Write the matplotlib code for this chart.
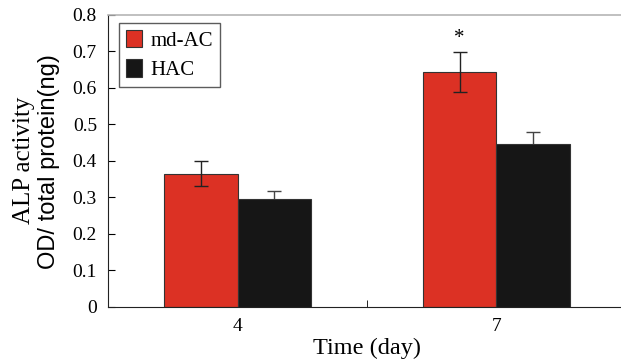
import matplotlib
matplotlib.use("Agg")
import matplotlib.pyplot as plt
import numpy as np

days = ["4", "7"]
md_ac = [0.365, 0.644]
md_ac_err = [0.035, 0.054]
hac = [0.295, 0.447]
hac_err = [0.023, 0.032]

RED = "#dc3124"
BLACK = "#161616"
SERIF = "Liberation Serif"

fig = plt.figure(figsize=(6.21, 3.64), dpi=100)
ax = fig.add_axes([0.174, 0.157, 0.834, 0.802])

x = np.arange(len(days))
width = 0.285
ax.bar(x - width / 2, md_ac, width, color=RED, edgecolor="#333333", linewidth=0.8,
       label="md-AC", zorder=2)
ax.bar(x + width / 2, hac, width, color=BLACK, edgecolor="#333333", linewidth=0.8,
       label="HAC", zorder=2)
ax.errorbar(x - width / 2, md_ac, yerr=md_ac_err, fmt="none", ecolor="#222222",
            elinewidth=1, capsize=5, capthick=1, zorder=3)
ax.errorbar(x + width / 2, hac, yerr=hac_err, fmt="none", ecolor="#444444",
            elinewidth=1, capsize=5, capthick=1, zorder=1)
ax.text(x[1] - width / 2, md_ac[1] + md_ac_err[1] + 0.038, "*", ha="center",
        va="center", fontsize=15, family=SERIF)

ax.set_xlim(-0.5, 1.5)
ax.set_ylim(0, 0.8)
ax.set_xticks(x)
ax.set_xticklabels(days, family=SERIF, fontsize=14)
ax.set_xticks([0.5], minor=True)
ax.tick_params(axis="x", which="major", length=0, pad=8)
ax.tick_params(axis="x", which="minor", direction="in", length=5)
ax.set_yticks(np.arange(0, 0.81, 0.1))
ax.set_yticklabels(["0", "0.1", "0.2", "0.3", "0.4", "0.5", "0.6", "0.7", "0.8"],
                   family=SERIF, fontsize=14)
ax.tick_params(axis="y", direction="in", length=5, pad=8)

ax.spines["right"].set_visible(False)
ax.spines["top"].set_color("#b5b5b5")
ax.spines["top"].set_linewidth(1.2)
ax.spines["left"].set_color("#222222")
ax.spines["bottom"].set_color("#222222")

ax.set_xlabel("Time (day)", family=SERIF, fontsize=17.5, labelpad=2)
fig.text(0.038, 0.56, "ALP activity", rotation=90, ha="center", va="center",
         family=SERIF, fontsize=18)
fig.text(0.079, 0.555, "OD/ total protein(ng)", rotation=90, ha="center", va="center",
         family="Liberation Sans", fontsize=17)

leg = ax.legend(loc="upper left", bbox_to_anchor=(0.021, 0.973), frameon=True,
                fancybox=False, edgecolor="#333333", prop={"family": SERIF, "size": 15},
                handlelength=0.75, handleheight=0.9, handletextpad=0.4,
                borderpad=0.35, labelspacing=0.4, borderaxespad=0)
leg.get_frame().set_linewidth(1)

plt.savefig("out.png", dpi=100)
plt.close()
